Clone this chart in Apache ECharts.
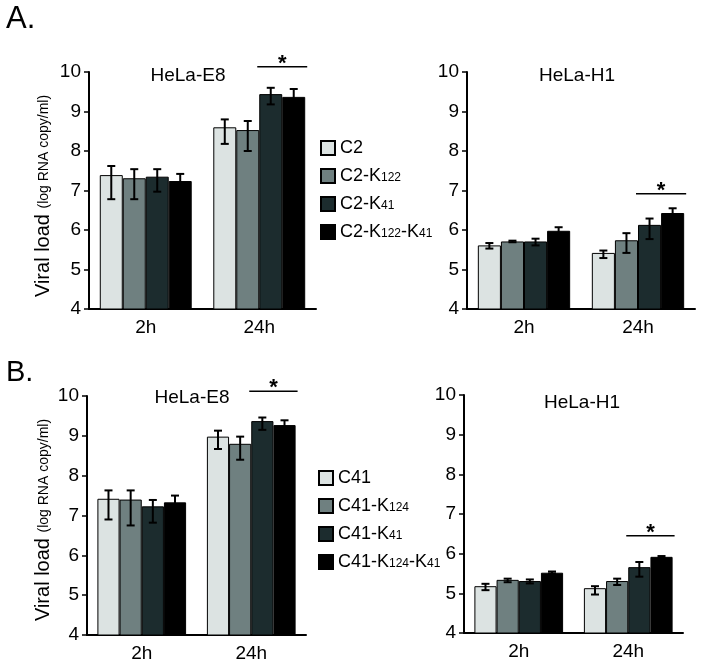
<!DOCTYPE html>
<html>
<head>
<meta charset="utf-8">
<script src="https://cdn.jsdelivr.net/npm/echarts@6/dist/echarts.min.js"></script>
<style>html,body{margin:0;padding:0;background:#fff}#c{width:704px;height:665px}</style>
</head>
<body>
<div id="c"></div>
<script>
// ---- data ----
const categories = ['2h', '24h'];
const namesA = ['C2', 'C2-K122', 'C2-K41', 'C2-K122-K41'];
const namesB = ['C41', 'C41-K124', 'C41-K41', 'C41-K124-K41'];
const yTicks = [4, 5, 6, 7, 8, 9, 10];

// Panel A, HeLa-E8 (per series: [2h, 24h])
const aE8Mean = [[7.39, 8.60], [7.31, 8.53], [7.35, 9.44], [7.24, 9.37]];
const aE8Low  = [[6.78, 8.18], [6.78, 8.00], [6.97, 9.18], [6.97, 9.16]];
const aE8High = [[7.62, 8.80], [7.54, 8.76], [7.54, 9.60], [7.42, 9.57]];
// Panel A, HeLa-H1
const aH1Mean = [[5.61, 5.42], [5.71, 5.74], [5.71, 6.13], [5.98, 6.43]];
const aH1Low  = [[5.53, 5.29], [5.69, 5.42], [5.61, 5.77], [5.90, 6.30]];
const aH1High = [[5.67, 5.48], [5.73, 5.92], [5.78, 6.29], [6.07, 6.55]];
// Panel B, HeLa-E8
const bE8Mean = [[7.42, 8.98], [7.40, 8.80], [7.23, 9.37], [7.33, 9.27]];
const bE8Low  = [[6.90, 8.67], [6.75, 8.40], [6.82, 9.15], [7.10, 9.17]];
const bE8High = [[7.63, 9.13], [7.63, 8.98], [7.39, 9.46], [7.50, 9.39]];
// Panel B, HeLa-H1
const bH1Mean = [[5.18, 5.13], [5.34, 5.31], [5.31, 5.66], [5.52, 5.92]];
const bH1Low  = [[5.08, 4.97], [5.28, 5.21], [5.25, 5.42], [5.50, 5.89]];
const bH1High = [[5.24, 5.18], [5.37, 5.37], [5.35, 5.79], [5.55, 5.94]];
// significance bar levels (24h group), in axis units
const sigLevels = [10.13, 6.92, 10.12, 6.45];

// ---- style ----
const FONT = '"Liberation Sans", Arial, Helvetica, sans-serif';
const colors = ['#dce3e2', '#6f8080', '#1c2c2e', '#000000'];
const GAP = 0.19;

const grids = [
  {left: 89, top: 72, width: 227, height: 237},
  {left: 467, top: 72, width: 228, height: 237},
  {left: 87, top: 396, width: 219, height: 239},
  {left: 464, top: 395, width: 219, height: 238}
];

function xAxisFor(i) {
  return {
    type: 'category', gridIndex: i, data: categories,
    axisLine: {show: true, lineStyle: {color: '#000', width: 2}},
    axisTick: {show: false},
    axisLabel: {color: '#000', fontSize: 19, fontFamily: FONT, margin: 9},
    splitLine: {show: false}
  };
}
function yAxisFor(i) {
  return {
    type: 'value', gridIndex: i, min: yTicks[0], max: yTicks[yTicks.length - 1], interval: 1,
    axisLine: {show: true, lineStyle: {color: '#000', width: 2}},
    axisTick: {show: true, length: 5, lineStyle: {color: '#000', width: 1.5}},
    axisLabel: {color: '#000', fontSize: 19, fontFamily: FONT, margin: 8},
    splitLine: {show: false}
  };
}

function barSeries(names, means, gi) {
  return names.map((n, i) => ({
    type: 'bar', name: n, xAxisIndex: gi, yAxisIndex: gi, data: means[i],
    barGap: 0, barCategoryGap: (GAP * 100) + '%',
    itemStyle: {color: colors[i], borderColor: '#000', borderWidth: 1},
    emphasis: {disabled: true}, animation: false, z: 2
  }));
}

function errorSeries(low, high, gi) {
  const data = [];
  for (let s = 0; s < low.length; s++) {
    for (let c = 0; c < categories.length; c++) {
      data.push([c, s, low[s][c], high[s][c]]);
    }
  }
  return {
    type: 'custom', xAxisIndex: gi, yAxisIndex: gi, data: data,
    encode: {x: 0, y: [2, 3]}, z: 5, animation: false, silent: true,
    renderItem: function (params, api) {
      const c = api.value(0), s = api.value(1);
      const lo = api.coord([c, api.value(2)]);
      const hi = api.coord([c, api.value(3)]);
      const band = api.size([1, 0])[0];
      const bw = band * (1 - GAP) / 4;
      const x = lo[0] + (s - 1.5) * bw;
      const cap = 4;
      const st = {stroke: '#000', lineWidth: 2};
      return {
        type: 'group', children: [
          {type: 'line', shape: {x1: x, y1: lo[1], x2: x, y2: hi[1]}, style: st},
          {type: 'line', shape: {x1: x - cap, y1: lo[1], x2: x + cap, y2: lo[1]}, style: st},
          {type: 'line', shape: {x1: x - cap, y1: hi[1], x2: x + cap, y2: hi[1]}, style: st}
        ]
      };
    }
  };
}

function sigSeries(level, gi) {
  return {
    type: 'custom', xAxisIndex: gi, yAxisIndex: gi, data: [[1, level]],
    encode: {x: 0, y: 1}, z: 6, animation: false, silent: true, clip: false,
    renderItem: function (params, api) {
      const p = api.coord([api.value(0), api.value(1)]);
      const band = api.size([1, 0])[0];
      const bw = band * (1 - GAP) / 4;
      const x1 = p[0] - 2, x2 = p[0] + 2 * bw + 2;
      return {
        type: 'group', children: [
          {type: 'line', shape: {x1: x1, y1: p[1], x2: x2, y2: p[1]}, style: {stroke: '#000', lineWidth: 1.5}},
          {type: 'text', x: p[0] + bw, y: p[1] - 3,
           style: {text: '*', fill: '#000', font: 'bold 22px ' + FONT, align: 'center', verticalAlign: 'middle'}}
        ]
      };
    }
  };
}

function legendFmt(name) {
  return '{m|' + name.replace(/K(\d+)/g, function (m, d) { return 'K}{s|' + d + '}{m|'; }) + '}';
}
const legendText = {
  color: '#000', fontFamily: FONT, fontSize: 18,
  rich: {
    m: {fontSize: 18, fontFamily: FONT, color: '#000', lineHeight: 20, verticalAlign: 'middle'},
    s: {fontSize: 12, fontFamily: FONT, color: '#000', lineHeight: 20, verticalAlign: 'middle', padding: [3, 0, 0, 0]}
  }
};

function yTitle(y) {
  return {
    type: 'text', x: 43, y: y, rotation: Math.PI / 2, silent: true,
    style: {
      text: '{a|Viral load }{b|(log RNA copy/ml)}',
      rich: {
        a: {fontSize: 20, fontFamily: FONT, fill: '#000', lineHeight: 22, verticalAlign: 'middle'},
        b: {fontSize: 14, fontFamily: FONT, fill: '#000', lineHeight: 22, verticalAlign: 'middle', padding: [3, 0, 0, 0]}
      },
      align: 'center', verticalAlign: 'middle', fill: '#000'
    }
  };
}
function label(text, x, y, size) {
  return {type: 'text', x: x, y: y, silent: true,
    style: {text: text, fill: '#000', font: size + 'px ' + FONT, align: 'center', verticalAlign: 'middle'}};
}
function corner(text, x, y, size) {
  return {type: 'text', x: x, y: y, silent: true,
    style: {text: text, fill: '#000', font: size + 'px ' + FONT, align: 'left', verticalAlign: 'top'}};
}

const option = {
  backgroundColor: '#fff',
  animation: false,
  grid: grids,
  xAxis: [0, 1, 2, 3].map(xAxisFor),
  yAxis: [0, 1, 2, 3].map(yAxisFor),
  legend: [
    {data: namesA, orient: 'vertical', left: 320, top: 139, padding: 0, itemWidth: 14, itemHeight: 14, itemGap: 10,
     icon: 'rect', formatter: legendFmt, textStyle: legendText, selectedMode: false},
    {data: namesB, orient: 'vertical', left: 318, top: 469, padding: 0, itemWidth: 14, itemHeight: 14, itemGap: 10,
     icon: 'rect', formatter: legendFmt, textStyle: legendText, selectedMode: false}
  ],
  series: [].concat(
    barSeries(namesA, aE8Mean, 0), [errorSeries(aE8Low, aE8High, 0), sigSeries(sigLevels[0], 0)],
    barSeries(namesA, aH1Mean, 1), [errorSeries(aH1Low, aH1High, 1), sigSeries(sigLevels[1], 1)],
    barSeries(namesB, bE8Mean, 2), [errorSeries(bE8Low, bE8High, 2), sigSeries(sigLevels[2], 2)],
    barSeries(namesB, bH1Mean, 3), [errorSeries(bH1Low, bH1High, 3), sigSeries(sigLevels[3], 3)]
  ),
  graphic: [
    corner('A.', 6, 4, 31),
    corner('B.', 6, 358, 29),
    label('HeLa-E8', 188, 76, 19),
    label('HeLa-H1', 577, 76, 19),
    label('HeLa-E8', 192, 398, 19),
    label('HeLa-H1', 582, 403, 19),
    yTitle(196),
    yTitle(520)
  ]
};

const chart = echarts.init(document.getElementById('c'), null, {renderer: 'canvas'});
chart.setOption(option);
</script>
</body>
</html>
